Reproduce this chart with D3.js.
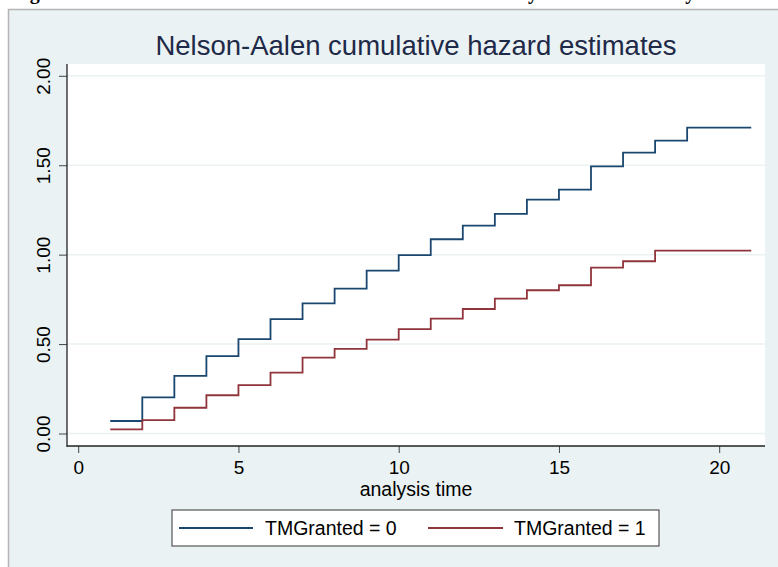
<!DOCTYPE html>
<html>
<head>
<meta charset="utf-8">
<script src="https://cdn.jsdelivr.net/npm/d3@7"></script>
<style>
  body { margin: 0; background: #fff; }
  svg { display: block; font-family: "Liberation Sans", Arial, sans-serif; }
</style>
</head>
<body>
<svg id="chart" width="778" height="567"></svg>
<script>
const width = 778;
const height = 567;

// analysis time points (steps happen at each integer time)
const times = [1, 2, 3, 4, 5, 6, 7, 8, 9, 10, 11, 12, 13, 14, 15, 16, 17, 18, 19, 20, 21];
// cumulative hazard, TMGranted = 0
const hazard0 = [0.070, 0.202, 0.322, 0.433, 0.528, 0.639, 0.728, 0.810, 0.911, 0.997, 1.086,
                 1.162, 1.228, 1.308, 1.364, 1.494, 1.571, 1.638, 1.710, 1.710, 1.710];
// cumulative hazard, TMGranted = 1
const hazard1 = [0.023, 0.075, 0.144, 0.214, 0.270, 0.340, 0.424, 0.473, 0.525, 0.584, 0.642,
                 0.696, 0.754, 0.801, 0.829, 0.927, 0.963, 1.022, 1.022, 1.022, 1.022];
const seriesNames = ['TMGranted = 0', 'TMGranted = 1'];
const xTicks = [0, 5, 10, 15, 20];
const yTicks = [0, 0.5, 1, 1.5, 2];

const colors = ['#1a476f', '#90353b'];
const bg = '#eaf2f3';

const svg = d3.select('#chart');

// caption of the page above the graph (cut off at the top)
const cap = svg.append('text')
    .attr('y', -1)
    .style('font-family', '"Liberation Serif", "Times New Roman", serif')
    .style('font-weight', 'bold')
    .style('font-size', '20px');
cap.append('tspan').attr('x', 12).text('Figure 2: Nelson-Aalen Cumulative Hazard Estimates');
cap.append('tspan').attr('x', 517).text('by Trademark Entry');

// graph region
svg.append('rect')
    .attr('x', 8).attr('y', 9)
    .attr('width', width - 8).attr('height', height - 9)
    .attr('fill', bg);
svg.append('path')
    .attr('d', `M8.5,${height} V9.5 H${width}`)
    .attr('fill', 'none')
    .attr('stroke', '#b4b4b4')
    .attr('stroke-width', 1.5);

// plot region
const plot = { left: 67, right: 765, top: 64, bottom: 446 };
svg.append('rect')
    .attr('x', plot.left).attr('y', plot.top)
    .attr('width', plot.right - plot.left).attr('height', plot.bottom - plot.top)
    .attr('fill', '#fff');

const x = d3.scaleLinear().domain([0, 20]).range([78.2, 719.2]);
const y = d3.scaleLinear().domain([0, 2]).range([433.5, 75.8]);

// grid lines
svg.append('g')
    .selectAll('line')
    .data(yTicks)
    .join('line')
    .attr('x1', plot.left).attr('x2', plot.right)
    .attr('y1', d => y(d)).attr('y2', d => y(d))
    .attr('stroke', bg)
    .attr('stroke-width', 1.5);

// step lines
const line = d3.line()
    .x(d => x(d[0]))
    .y(d => y(d[1]))
    .curve(d3.curveStepAfter);

[hazard0, hazard1].forEach((vals, i) => {
    svg.append('path')
        .datum(times.map((t, j) => [t, vals[j]]))
        .attr('d', line)
        .attr('fill', 'none')
        .attr('stroke', colors[i])
        .attr('stroke-width', 1.8);
});

// axes
const xAxis = svg.append('g')
    .attr('transform', `translate(0,${plot.bottom})`)
    .call(d3.axisBottom(x).tickValues(xTicks).tickSize(7).tickPadding(8).tickSizeOuter(0));
xAxis.select('.domain').remove();
xAxis.append('line')
    .attr('x1', plot.left).attr('x2', plot.right)
    .attr('stroke', '#222').attr('stroke-width', 1.3);
xAxis.selectAll('.tick line').attr('stroke', '#444');
xAxis.selectAll('.tick text')
    .attr('fill', '#000')
    .style('font-size', '19px')
    .style('font-family', '"Liberation Sans", Arial, sans-serif');

const yAxis = svg.append('g')
    .attr('transform', `translate(${plot.left},0)`)
    .call(d3.axisLeft(y).tickValues(yTicks).tickFormat(d3.format('.2f')).tickSize(8).tickSizeOuter(0));
yAxis.select('.domain').remove();
yAxis.append('line')
    .attr('y1', plot.top).attr('y2', plot.bottom + 1)
    .attr('stroke', '#222').attr('stroke-width', 1.3);
yAxis.selectAll('.tick line').attr('stroke', '#444');
yAxis.selectAll('.tick text')
    .attr('x', 0).attr('dy', 0)
    .attr('transform', 'translate(-17,0) rotate(-90)')
    .attr('text-anchor', 'middle')
    .attr('fill', '#000')
    .style('font-size', '19px')
    .style('font-family', '"Liberation Sans", Arial, sans-serif');

// titles
const midX = (plot.left + plot.right) / 2;
svg.append('text')
    .attr('x', midX).attr('y', 55)
    .attr('text-anchor', 'middle')
    .attr('fill', '#1e2a48')
    .style('font-size', '27.5px')
    .text('Nelson-Aalen cumulative hazard estimates');

svg.append('text')
    .attr('x', midX).attr('y', 496)
    .attr('text-anchor', 'middle')
    .attr('fill', '#000')
    .style('font-size', '19.5px')
    .text('analysis time');

// legend
const legend = svg.append('g');
legend.append('rect')
    .attr('x', 172).attr('y', 510)
    .attr('width', 487).attr('height', 36)
    .attr('fill', '#fff')
    .attr('stroke', '#555')
    .attr('stroke-width', 1.2);
const items = [
    { x1: 179, x2: 253, tx: 265 },
    { x1: 428, x2: 503, tx: 514 }
];
items.forEach((it, i) => {
    legend.append('line')
        .attr('x1', it.x1).attr('x2', it.x2)
        .attr('y1', 528).attr('y2', 528)
        .attr('stroke', colors[i])
        .attr('stroke-width', 1.8);
    legend.append('text')
        .attr('x', it.tx).attr('y', 534.5)
        .attr('fill', '#000')
        .style('font-size', '19.5px')
        .text(seriesNames[i]);
});
</script>
</body>
</html>
